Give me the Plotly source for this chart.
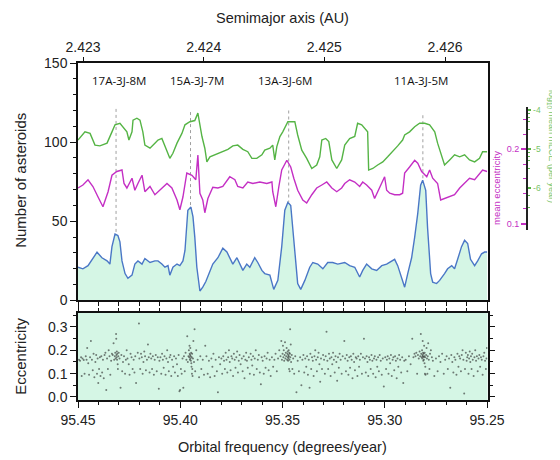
import plotly.graph_objects as go

# ---------------- data ----------------
# blue: number of asteroids vs orbital frequency (deg/yr)
count_freq = [95.4500, 95.4476, 95.4451, 95.4427, 95.4407, 95.4383, 95.4358, 95.4344, 95.4334, 95.4319,
              95.4305, 95.4295, 95.4285, 95.4270, 95.4256, 95.4236, 95.4222, 95.4207, 95.4187, 95.4173,
              95.4148, 95.4124, 95.4109, 95.4090, 95.4075, 95.4060, 95.4051, 95.4036, 95.4016, 95.4002,
              95.3987, 95.3977, 95.3968, 95.3963, 95.3948, 95.3938, 95.3929, 95.3919, 95.3904, 95.3890,
              95.3875, 95.3855, 95.3841, 95.3816, 95.3792, 95.3772, 95.3758, 95.3743, 95.3723, 95.3709,
              95.3694, 95.3675, 95.3660, 95.3636, 95.3621, 95.3601, 95.3587, 95.3562, 95.3543, 95.3523,
              95.3504, 95.3489, 95.3474, 95.3460, 95.3450, 95.3435, 95.3426, 95.3411, 95.3391, 95.3367,
              95.3352, 95.3328, 95.3303, 95.3279, 95.3255, 95.3230, 95.3196, 95.3172, 95.3147, 95.3123,
              95.3108, 95.3089, 95.3064, 95.3040, 95.3015, 95.2991, 95.2966, 95.2952, 95.2937, 95.2918,
              95.2903, 95.2888, 95.2869, 95.2854, 95.2839, 95.2825, 95.2815, 95.2800, 95.2791, 95.2776,
              95.2766, 95.2747, 95.2732, 95.2708, 95.2693, 95.2673, 95.2659, 95.2644, 95.2625, 95.2610,
              95.2595, 95.2581, 95.2561, 95.2546, 95.2527, 95.2512, 95.2500]
count_vals = [21, 20, 22, 27, 30.5, 27, 25, 23, 34, 42,
              41, 37, 25, 17, 14, 16, 23, 25, 23, 26.5,
              24, 25, 25, 23, 21, 22, 16, 21, 23, 22,
              25, 31.6, 46, 57, 59, 53, 40, 21, 6, 8.4,
              12, 18, 23, 27, 33, 30.6, 26.6, 23, 27, 23,
              19, 23, 21, 27, 24, 19, 17, 16, 7, 12.7,
              34, 57, 62, 60, 44, 25, 10.7, 7, 12.7, 21,
              24, 23, 20, 24, 24, 23, 24, 22, 21, 14.8,
              19, 23, 20, 19, 22, 23, 25, 26, 22, 14.8,
              8.4, 17, 27, 40, 55, 72.8, 76, 69.6, 46, 17,
              11.6, 10.7, 12.7, 17, 20, 22, 20, 26, 34, 38,
              36, 26, 22, 25, 29.5, 30.6, 30.6]

# magenta: mean eccentricity
ecc_freq = [95.4500, 95.4476, 95.4451, 95.4427, 95.4402, 95.4378, 95.4353, 95.4334, 95.4310, 95.4285,
            95.4275, 95.4261, 95.4236, 95.4222, 95.4207, 95.4187, 95.4173, 95.4148, 95.4124, 95.4100,
            95.4065, 95.4041, 95.4016, 95.4002, 95.3987, 95.3968, 95.3943, 95.3924, 95.3914, 95.3904,
            95.3890, 95.3880, 95.3865, 95.3841, 95.3816, 95.3792, 95.3758, 95.3733, 95.3719, 95.3694,
            95.3670, 95.3645, 95.3611, 95.3577, 95.3552, 95.3548, 95.3533, 95.3518, 95.3504, 95.3479,
            95.3460, 95.3445, 95.3426, 95.3401, 95.3382, 95.3357, 95.3333, 95.3308, 95.3284, 95.3259,
            95.3235, 95.3211, 95.3196, 95.3172, 95.3147, 95.3123, 95.3108, 95.3089, 95.3064, 95.3050,
            95.3035, 95.3015, 95.3001, 95.2991, 95.2976, 95.2952, 95.2927, 95.2913, 95.2903, 95.2879,
            95.2854, 95.2839, 95.2820, 95.2795, 95.2781, 95.2766, 95.2742, 95.2727, 95.2708, 95.2683,
            95.2659, 95.2634, 95.2610, 95.2586, 95.2561, 95.2537, 95.2522, 95.2500]
ecc_vals = [0.148, 0.152, 0.159, 0.150, 0.136, 0.123, 0.143, 0.165, 0.170, 0.172,
            0.154, 0.148, 0.161, 0.145, 0.154, 0.165, 0.143, 0.150, 0.139, 0.145,
            0.154, 0.148, 0.132, 0.119, 0.136, 0.168, 0.165, 0.159, 0.192, 0.141,
            0.132, 0.115, 0.134, 0.149, 0.148, 0.150, 0.163, 0.159, 0.150, 0.148,
            0.156, 0.154, 0.156, 0.154, 0.156, 0.143, 0.123, 0.150, 0.172, 0.185,
            0.176, 0.161, 0.145, 0.132, 0.128, 0.139, 0.148, 0.152, 0.156, 0.148,
            0.143, 0.148, 0.154, 0.159, 0.156, 0.150, 0.156, 0.152, 0.145, 0.134,
            0.143, 0.156, 0.163, 0.145, 0.141, 0.139, 0.139, 0.141, 0.168, 0.176,
            0.185, 0.181, 0.170, 0.163, 0.172, 0.161, 0.154, 0.132, 0.134, 0.136,
            0.139, 0.148, 0.154, 0.161, 0.159, 0.168, 0.172, 0.170]

# green: log10 mean mLCE (per year)
mlce_freq = [95.4500, 95.4466, 95.4441, 95.4417, 95.4393, 95.4358, 95.4334, 95.4319, 95.4295, 95.4280,
             95.4261, 95.4251, 95.4236, 95.4231, 95.4212, 95.4197, 95.4183, 95.4173, 95.4148, 95.4124,
             95.4109, 95.4090, 95.4065, 95.4051, 95.4036, 95.4016, 95.3992, 95.3977, 95.3953, 95.3929,
             95.3914, 95.3894, 95.3880, 95.3870, 95.3855, 95.3831, 95.3797, 95.3767, 95.3743, 95.3719,
             95.3694, 95.3670, 95.3650, 95.3626, 95.3601, 95.3587, 95.3562, 95.3548, 95.3538, 95.3528,
             95.3513, 95.3499, 95.3474, 95.3455, 95.3440, 95.3426, 95.3406, 95.3382, 95.3357, 95.3333,
             95.3318, 95.3308, 95.3289, 95.3274, 95.3259, 95.3235, 95.3211, 95.3196, 95.3172, 95.3147,
             95.3133, 95.3113, 95.3098, 95.3084, 95.3079, 95.3059, 95.3035, 95.3010, 95.2986, 95.2962,
             95.2937, 95.2913, 95.2903, 95.2879, 95.2854, 95.2830, 95.2805, 95.2781, 95.2756, 95.2742,
             95.2722, 95.2708, 95.2683, 95.2659, 95.2634, 95.2610, 95.2586, 95.2561, 95.2537, 95.2522,
             95.2500]
mlce_vals = [-4.77, -4.56, -4.60, -4.90, -4.92, -4.85, -4.56, -4.38, -4.34, -4.43,
             -4.56, -4.77, -4.56, -4.26, -4.21, -4.26, -4.56, -4.90, -4.98, -4.85,
             -4.77, -4.73, -5.03, -5.24, -5.11, -4.85, -4.60, -4.38, -4.30, -4.27,
             -4.08, -4.68, -4.98, -5.33, -5.20, -5.15, -5.07, -5.01, -4.92, -4.90,
             -5.01, -5.07, -5.24, -5.24, -5.15, -5.03, -4.98, -4.90, -5.28, -4.94,
             -4.68, -4.56, -4.30, -4.30, -4.30, -4.64, -5.03, -5.24, -5.50, -5.41,
             -5.20, -4.77, -4.73, -4.81, -5.28, -5.50, -5.28, -4.90, -4.73, -4.68,
             -4.34, -4.38, -4.47, -4.56, -5.54, -5.50, -5.41, -5.33, -5.20, -5.07,
             -4.92, -4.77, -4.64, -4.56, -4.43, -4.34, -4.34, -4.38, -4.56, -4.85,
             -5.20, -5.41, -5.28, -5.15, -5.20, -5.15, -5.28, -5.33, -5.24, -5.07,
             -5.07]

# resonances
res_labels = ["17A-3J-8M", "15A-3J-7M", "13A-3J-6M", "11A-3J-5M"]
res_freq = [95.4314, 95.3950, 95.3470, 95.2814]
res_top = [121, 119, 120, 117]
res_peak = [42, 59, 62, 76]
label_level = 139

# top axis: semimajor axis (AU)
a_ticks = [2.423, 2.424, 2.425, 2.426]
a_range = [2.4229586, 2.4263521]

# individual asteroids: (orbital frequency, eccentricity)
asteroids = [
 (95.4495,0.16),(95.4490,0.155),(95.4485,0.17),(95.4482,0.09),(95.4478,0.165),(95.4472,0.158),(95.4468,0.10),
 (95.4462,0.175),(95.4458,0.16),(95.4455,0.21),(95.4450,0.145),(95.4446,0.095),(95.4441,0.17),(95.4437,0.24),
 (95.4432,0.16),(95.4428,0.115),(95.4424,0.185),(95.4420,0.085),(95.4415,0.15),(95.4411,0.18),(95.4407,0.1),
 (95.4404,0.165),(95.4401,0.06),
 (95.4397,0.12),(95.4393,0.17),(95.4390,0.09),(95.4386,0.175),(95.4382,0.105),(95.4378,0.16),(95.4374,0.08),
 (95.4370,0.18),(95.4366,0.19),(95.4362,0.03),(95.4358,0.165),(95.4354,0.12),(95.4350,0.2),(95.4346,0.175),
 (95.4342,0.095),(95.4338,0.155),(95.4334,0.185),(95.4330,0.18),(95.4326,0.23),(95.4323,0.16),(95.4320,0.175),
 (95.4318,0.19),(95.4316,0.165),(95.4314,0.27),(95.4313,0.25),(95.4312,0.18),(95.4311,0.17),(95.4310,0.195),
 (95.4309,0.16),(95.4308,0.185),(95.4306,0.14),(95.4305,0.12),(95.4303,0.175),(95.4301,0.19),
 (95.4297,0.165),(95.4292,0.04),(95.4288,0.18),(95.4284,0.11),(95.4280,0.15),(95.4275,0.175),(95.4270,0.1),
 (95.4266,0.16),(95.4262,0.2),(95.4258,0.165),(95.4252,0.14),(95.4248,0.095),(95.4243,0.185),(95.4238,0.17),
 (95.4233,0.12),(95.4228,0.16),(95.4224,0.105),(95.4220,0.175),(95.4216,0.06),(95.4202,0.315),(95.4208,0.19),
 (95.4200,0.165),(95.4196,0.12),(95.4192,0.185),(95.4188,0.17),(95.4184,0.1),(95.4180,0.15),(95.4176,0.195),
 (95.4172,0.175),(95.4168,0.115),(95.4163,0.16),(95.4158,0.225),(95.4154,0.17),(95.4150,0.105),(95.4146,0.185),
 (95.4142,0.165),(95.4138,0.12),(95.4134,0.175),(95.4129,0.095),(95.4125,0.16),(95.4120,0.18),(95.4115,0.11),
 (95.4110,0.17),(95.4105,0.035),(95.4102,0.155),
 (95.4097,0.17),(95.4093,0.1),(95.4089,0.185),(95.4085,0.16),(95.4081,0.125),(95.4077,0.175),(95.4072,0.095),
 (95.4068,0.165),(95.4064,0.2),(95.4060,0.15),(95.4056,0.11),(95.4052,0.17),(95.4048,0.18),(95.4044,0.09),
 (95.4040,0.16),(95.4035,0.13),(95.4030,0.175),(95.4026,0.105),(95.4021,0.165),(95.4016,0.14),(95.4012,0.09),
 (95.4008,0.18),(95.4004,0.025),(95.4001,0.03),
 (95.3997,0.12),(95.3993,0.1),(95.3989,0.165),(95.3985,0.04),(95.3982,0.175),(95.3978,0.11),(95.3974,0.19),
 (95.3970,0.16),(95.3966,0.26),(95.3963,0.15),(95.3960,0.175),(95.3958,0.2),(95.3956,0.17),(95.3955,0.22),
 (95.3954,0.185),(95.3953,0.16),(95.3952,0.18),(95.3951,0.21),(95.3950,0.165),(95.3949,0.175),(95.3948,0.155),
 (95.3947,0.19),(95.3946,0.145),(95.3945,0.13),(95.3944,0.17),(95.3943,0.1),(95.3942,0.185),(95.3941,0.12),
 (95.3940,0.09),(95.3938,0.165),(95.3936,0.24),(95.3933,0.15),(95.3930,0.29),(95.3927,0.11),(95.3922,0.2),
 (95.3915,0.16),(95.3908,0.085),(95.3902,0.175),
 (95.3897,0.12),(95.3890,0.16),(95.3884,0.095),(95.3878,0.22),(95.3872,0.175),(95.3866,0.1),(95.3860,0.155),
 (95.3854,0.085),(95.3848,0.165),(95.3843,0.13),(95.3838,0.185),(95.3832,0.09),(95.3827,0.16),(95.3821,0.11),
 (95.3816,0.02),(95.3811,0.17),(95.3805,0.14),
 (95.3799,0.165),(95.3795,0.1),(95.3790,0.175),(95.3786,0.155),(95.3782,0.12),(95.3778,0.19),(95.3774,0.16),
 (95.3770,0.105),(95.3766,0.17),(95.3762,0.2),(95.3758,0.15),(95.3754,0.115),(95.3750,0.175),(95.3746,0.165),
 (95.3742,0.09),(95.3738,0.185),(95.3734,0.16),(95.3730,0.125),(95.3726,0.17),(95.3722,0.195),(95.3718,0.105),
 (95.3714,0.155),(95.3710,0.18),(95.3705,0.14),
 (95.3699,0.165),(95.3695,0.11),(95.3690,0.175),(95.3686,0.08),(95.3682,0.16),(95.3678,0.19),(95.3674,0.155),
 (95.3670,0.125),(95.3665,0.17),(95.3660,0.1),(95.3656,0.185),(95.3652,0.16),(95.3648,0.135),(95.3644,0.175),
 (95.3640,0.095),(95.3636,0.165),(95.3631,0.2),(95.3626,0.12),(95.3621,0.16),(95.3616,0.18),(95.3611,0.105),
 (95.3606,0.055),(95.3602,0.17),
 (95.3597,0.155),(95.3592,0.1),(95.3588,0.175),(95.3583,0.125),(95.3578,0.165),(95.3573,0.19),(95.3568,0.115),
 (95.3563,0.16),(95.3558,0.09),(95.3552,0.17),(95.3546,0.13),(95.3540,0.16),(95.3534,0.185),(95.3528,0.11),
 (95.3522,0.165),(95.3516,0.2),(95.3510,0.175),(95.3506,0.24),(95.3503,0.16),(95.3500,0.185),
 (95.3498,0.22),(95.3496,0.17),(95.3494,0.2),(95.3492,0.155),(95.3490,0.18),(95.3488,0.235),(95.3486,0.165),
 (95.3484,0.19),(95.3482,0.175),(95.3480,0.21),(95.3478,0.16),(95.3476,0.185),(95.3475,0.195),(95.3474,0.17),
 (95.3473,0.155),(95.3472,0.18),(95.3471,0.165),(95.3470,0.2),(95.3469,0.175),(95.3468,0.12),(95.3467,0.19),
 (95.3466,0.16),(95.3465,0.11),(95.3464,0.185),(95.3463,0.29),(95.3462,0.17),(95.3460,0.225),(95.3458,0.15),
 (95.3455,0.18),(95.3452,0.12),(95.3448,0.165),(95.3443,0.1),(95.3438,0.175),(95.3432,0.02),(95.3426,0.155),
 (95.3420,0.11),(95.3414,0.17),(95.3408,0.05),(95.3403,0.16),
 (95.3398,0.18),(95.3394,0.105),(95.3389,0.165),(95.3384,0.13),(95.3380,0.175),(95.3376,0.095),(95.3372,0.16),
 (95.3368,0.04),(95.3364,0.185),(95.3360,0.12),(95.3356,0.17),(95.3352,0.155),(95.3348,0.09),(95.3344,0.175),
 (95.3340,0.2),(95.3336,0.16),(95.3332,0.11),(95.3328,0.17),(95.3324,0.19),(95.3320,0.14),(95.3316,0.065),
 (95.3312,0.165),(95.3307,0.12),(95.3302,0.18),
 (95.3297,0.16),(95.3293,0.1),(95.3289,0.175),(95.3285,0.28),(95.3281,0.155),(95.3277,0.12),(95.3273,0.185),
 (95.3269,0.165),(95.3265,0.09),(95.3261,0.17),(95.3257,0.14),(95.3253,0.19),(95.3249,0.16),(95.3245,0.105),
 (95.3241,0.175),(95.3237,0.15),(95.3233,0.07),(95.3229,0.17),(95.3225,0.125),(95.3221,0.185),(95.3216,0.16),
 (95.3211,0.1),(95.3206,0.175),
 (95.3198,0.24),(95.3194,0.165),(95.3190,0.11),(95.3186,0.18),(95.3182,0.155),(95.3178,0.095),(95.3174,0.17),
 (95.3170,0.125),(95.3166,0.175),(95.3162,0.16),(95.3158,0.08),(95.3154,0.185),(95.3150,0.15),(95.3146,0.115),
 (95.3142,0.17),(95.3138,0.165),(95.3134,0.09),(95.3130,0.175),(95.3126,0.13),(95.3122,0.16),(95.3117,0.185),
 (95.3112,0.1),(95.3107,0.17),(95.3102,0.25),
 (95.3097,0.165),(95.3093,0.105),(95.3089,0.175),(95.3085,0.15),(95.3081,0.09),(95.3077,0.17),(95.3073,0.16),
 (95.3069,0.12),(95.3065,0.18),(95.3061,0.155),(95.3057,0.1),(95.3053,0.165),(95.3049,0.175),(95.3045,0.085),
 (95.3041,0.16),(95.3037,0.13),(95.3033,0.17),(95.3029,0.11),(95.3025,0.18),(95.3020,0.155),(95.3015,0.095),
 (95.3010,0.165),(95.3005,0.045),
 (95.2998,0.17),(95.2994,0.12),(95.2990,0.16),(95.2986,0.175),(95.2982,0.1),(95.2978,0.165),(95.2974,0.145),
 (95.2970,0.18),(95.2966,0.09),(95.2962,0.16),(95.2958,0.17),(95.2954,0.115),(95.2950,0.175),(95.2946,0.155),
 (95.2942,0.08),(95.2938,0.165),(95.2934,0.13),(95.2930,0.18),(95.2925,0.16),(95.2920,0.105),(95.2915,0.17),
 (95.2910,0.06),(95.2905,0.155),
 (95.2898,0.16),(95.2890,0.11),(95.2882,0.175),(95.2874,0.14),(95.2866,0.25),(95.2860,0.17),(95.2855,0.185),
 (95.2850,0.175),(95.2846,0.19),(95.2842,0.1),(95.2838,0.18),(95.2834,0.165),(95.2830,0.195),(95.2827,0.175),
 (95.2824,0.27),(95.2822,0.185),(95.2820,0.17),(95.2818,0.2),(95.2817,0.165),(95.2816,0.18),(95.2815,0.24),
 (95.2814,0.175),(95.2813,0.19),(95.2812,0.155),(95.2811,0.17),(95.2810,0.185),(95.2809,0.16),(95.2808,0.22),
 (95.2807,0.175),(95.2806,0.145),(95.2805,0.19),(95.2804,0.1),(95.2803,0.17),(95.2802,0.13),(95.2801,0.095),
 (95.2798,0.18),(95.2796,0.21),(95.2794,0.165),(95.2792,0.1),(95.2790,0.175),(95.2788,0.23),(95.2785,0.16),
 (95.2782,0.12),(95.2779,0.185),(95.2775,0.2),(95.2770,0.17),(95.2765,0.155),(95.2758,0.09),(95.2750,0.165),
 (95.2742,0.11),(95.2735,0.175),(95.2728,0.15),(95.2720,0.185),(95.2712,0.1),(95.2705,0.16),
 (95.2698,0.175),(95.2692,0.12),(95.2686,0.165),(95.2680,0.04),(95.2675,0.18),(95.2670,0.15),(95.2665,0.105),
 (95.2660,0.17),(95.2655,0.16),(95.2650,0.095),(95.2645,0.185),(95.2640,0.13),(95.2636,0.175),(95.2632,0.165),
 (95.2628,0.11),(95.2624,0.18),(95.2620,0.2),(95.2616,0.16),(95.2612,0.015),(95.2608,0.12),(95.2604,0.19),
 (95.2600,0.155),
 (95.2597,0.17),(95.2594,0.18),(95.2591,0.1),(95.2588,0.165),(95.2585,0.195),(95.2582,0.15),(95.2579,0.175),
 (95.2576,0.12),(95.2573,0.185),(95.2570,0.16),(95.2566,0.09),(95.2562,0.17),(95.2558,0.2),(95.2554,0.155),
 (95.2550,0.175),(95.2546,0.11),(95.2542,0.165),(95.2538,0.18),(95.2534,0.13),(95.2530,0.17),(95.2526,0.16),
 (95.2522,0.095),(95.2518,0.175),(95.2514,0.19),(95.2510,0.155),(95.2506,0.12),(95.2503,0.165),(95.2501,0.21),
]
ast_freq = [p[0] for p in asteroids]
ast_ecc = [p[1] for p in asteroids]

# ---------------- styling ----------------
FREQ_RANGE = [95.45, 95.2498]
TXT = "#222222"
FONT = "Liberation Sans, Arial, sans-serif"
BLUE = "#4a77c6"
FILL = "#d5f6e5"
MAG = "#c42fc4"
GRN = "#55b445"
GRN_T = "#78c46a"
XDOM = [0, 0.8676]

fig = go.Figure()

fig.add_trace(go.Scatter(x=count_freq, y=count_vals, mode="lines", fill="tozeroy",
                         fillcolor=FILL, line=dict(color=BLUE, width=1.4),
                         xaxis="x", yaxis="y", showlegend=False))

rx, ry = [], []
for f, t, p in zip(res_freq, res_top, res_peak):
    rx += [f, f, None]
    ry += [t, p, None]
fig.add_trace(go.Scatter(x=rx, y=ry, mode="lines",
                         line=dict(color="#a0a0a0", width=1, dash="dot"),
                         xaxis="x", yaxis="y", showlegend=False))

fig.add_trace(go.Scatter(x=ecc_freq, y=ecc_vals, mode="lines",
                         line=dict(color=MAG, width=1.4),
                         xaxis="x", yaxis="y3", showlegend=False))
fig.add_trace(go.Scatter(x=mlce_freq, y=mlce_vals, mode="lines",
                         line=dict(color=GRN, width=1.4),
                         xaxis="x", yaxis="y4", showlegend=False))

# invisible points that activate the top semimajor-axis scale
fig.add_trace(go.Scatter(x=a_range, y=[0, 0], mode="markers", marker=dict(size=1, opacity=0),
                         xaxis="x2", yaxis="y", showlegend=False, hoverinfo="skip"))

fig.add_trace(go.Scatter(x=ast_freq, y=ast_ecc, mode="markers",
                         marker=dict(size=2, color="rgba(40,40,40,0.6)"),
                         xaxis="x3", yaxis="y2", showlegend=False))

for lab, f, dx in zip(res_labels, res_freq, [3, 6, -4, -2]):
    fig.add_annotation(x=f, y=label_level, xref="x", yref="y", text=lab, showarrow=False,
                       xshift=dx, font=dict(family="Open Sans, sans-serif", size=11.5, color="#111"))

axis_common = dict(showgrid=False, zeroline=False, linecolor="#111", linewidth=1.5, automargin=False,
                   tickcolor="#111", tickfont=dict(family=FONT, size=14, color=TXT))

# the page adds an 8px body margin, so the figure is 8px smaller than the window
fig.update_layout(
    width=552, height=452,
    margin=dict(l=70, r=10, t=55, b=60, autoexpand=False),
    paper_bgcolor="white", plot_bgcolor="rgba(0,0,0,0)",
    font=dict(family=FONT, color=TXT),
    xaxis=dict(domain=XDOM, anchor="y", range=FREQ_RANGE, showticklabels=False,
               ticks="outside", tick0=95.25, dtick=0.05, ticklen=6, tickwidth=1.3,
               minor=dict(dtick=0.01, ticklen=3.5, ticks="outside", tickcolor="#111", tickwidth=1.2),
               showline=True, **axis_common),
    xaxis2=dict(overlaying="x", side="top", anchor="y", range=a_range, tickvals=a_ticks,
                ticktext=[f"{v:.3f}" for v in a_ticks], ticks="outside", ticklen=4, tickwidth=1.3,
                showline=True, **axis_common),
    yaxis=dict(domain=[0.2953, 1], anchor="x", range=[0, 150], tickvals=[0, 50, 100, 150],
               ticks="outside", ticklen=6, tickwidth=1.3,
               minor=dict(dtick=10, ticklen=3.5, ticks="outside", tickcolor="#111", tickwidth=1.2),
               showline=True, mirror=True, **axis_common),
    xaxis3=dict(domain=XDOM, anchor="y2", range=FREQ_RANGE,
                tickvals=[95.45, 95.40, 95.35, 95.30, 95.25], tickformat=".2f",
                ticks="outside", ticklen=6, tickwidth=1.3,
                minor=dict(tickvals=[95.44, 95.43, 95.42, 95.41, 95.39, 95.38, 95.37, 95.36,
                                     95.34, 95.33, 95.32, 95.31, 95.29, 95.28, 95.27, 95.26],
                           ticklen=3.5, ticks="outside", tickcolor="#111", tickwidth=1.2),
                showline=True, mirror="ticks", **axis_common),
    yaxis2=dict(domain=[0, 0.2582], anchor="x3", range=[-0.013, 0.36],
                tickvals=[0.0, 0.1, 0.2, 0.3], tickformat=".1f",
                ticks="outside", ticklen=6, tickwidth=1.3,
                minor=dict(tickvals=[0.05, 0.15, 0.25, 0.35], ticklen=3.5, ticks="outside",
                           tickcolor="#111", tickwidth=1.2),
                showline=True, mirror="ticks", **axis_common),
    yaxis3=dict(domain=[0.5045, 0.8694], anchor="free", position=0.9513, side="left",
                range=[0.092, 0.256], tickvals=[0.1, 0.2], ticktext=["0.1", "0.2"],
                ticks="outside", ticklen=5, tickwidth=1.5, tickcolor=MAG, automargin=False,
                minor=dict(tickvals=[0.12, 0.14, 0.16, 0.18, 0.22, 0.24], ticklen=3,
                           ticks="outside", tickcolor=MAG, tickwidth=1.2),
                tickfont=dict(family=FONT, size=9, color=MAG),
                showline=True, linecolor="#222", linewidth=1.8, showgrid=False, zeroline=False),
    yaxis4=dict(domain=[0.5045, 0.8694], anchor="free", position=0.9513, side="right",
                range=[-7.077, -3.923], tickvals=[-4, -5, -6], ticktext=["-4", "-5", "-6"],
                ticks="outside", ticklen=3.5, tickwidth=1.5, tickcolor=GRN, automargin=False,
                minor=dict(tickvals=[-4.1, -4.2, -4.3, -4.5, -5.1, -5.2, -5.3, -5.5, -6.2, -6.5],
                           ticklen=2.5, ticks="outside", tickcolor=GRN, tickwidth=1.2),
                tickfont=dict(family=FONT, size=8.5, color=GRN_T),
                showline=True, linecolor="#222", linewidth=1.8, showgrid=False, zeroline=False),
)

fig.add_shape(type="rect", xref="x3 domain", yref="y2 domain", x0=0, x1=1, y0=0, y1=1,
              fillcolor=FILL, line=dict(width=0), layer="below")

def title(text, x, y, angle=0, size=14.5, color=TXT):
    fig.add_annotation(text=text, x=x, y=y, xref="paper", yref="paper", showarrow=False,
                       textangle=angle, font=dict(family=FONT, size=size, color=color),
                       xanchor="center", yanchor="middle")

title("Number of asteroids", -0.121, 0.653, -90, 15)
title("Eccentricity", -0.121, 0.131, -90, 15)
title("Semimajor axis (AU)", 0.4333, 1.134, 0, 14.5)
title("Orbital frequency (degrees/year)", 0.4333, -0.14, 0, 14.5)
title("mean eccentricity", 0.8856, 0.629, -90, 9.5, MAG)
title("log<sub>10</sub> mean mLCE (per year)", 1.002, 0.751, 90, 9, GRN_T)

fig.write_html("out.html")
